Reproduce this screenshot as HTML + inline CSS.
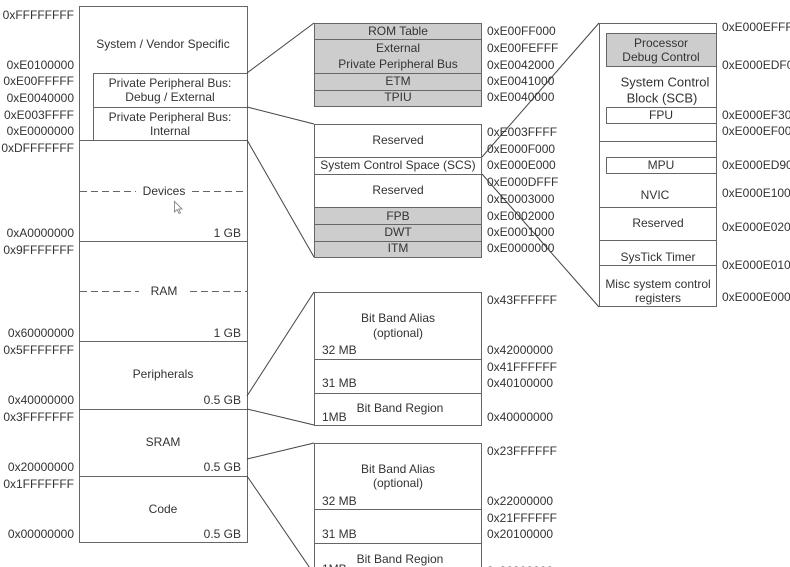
<!DOCTYPE html>
<html><head><meta charset="utf-8"><style>
html,body{margin:0;padding:0;background:#fff;}
svg{display:block;}
text{font-family:"Liberation Sans",Arial,sans-serif;font-size:12px;fill:#333;dominant-baseline:central;}
.m{text-anchor:middle;}
.e{text-anchor:end;}
</style></head><body>
<svg width="790" height="567" viewBox="0 0 790 567" xmlns="http://www.w3.org/2000/svg">
<g fill="none" stroke="#666" stroke-width="1">
<!-- left column -->
<rect x="79.5" y="6.5" width="168" height="536"/>
<rect x="93.5" y="73.5" width="154" height="34"/>
<line x1="93.5" y1="107.5" x2="93.5" y2="140.5"/>
<line x1="79.5" y1="140.5" x2="247.5" y2="140.5"/>
<line x1="79.5" y1="241.5" x2="247.5" y2="241.5"/>
<line x1="79.5" y1="341.5" x2="247.5" y2="341.5"/>
<line x1="79.5" y1="409.5" x2="247.5" y2="409.5"/>
<line x1="79.5" y1="476.5" x2="247.5" y2="476.5"/>
<g stroke-dasharray="7,4">
<line x1="80" y1="191.5" x2="136" y2="191.5"/>
<line x1="192" y1="191.5" x2="247" y2="191.5"/>
<line x1="80" y1="291.5" x2="139" y2="291.5"/>
<line x1="190" y1="291.5" x2="247" y2="291.5"/>
</g>
</g>
<!-- middle gray boxes -->
<g stroke="#666" stroke-width="1">
<rect x="314.5" y="23.5" width="167" height="83" fill="#cdcdcd"/>
<line x1="314.5" y1="39.5" x2="481.5" y2="39.5"/>
<line x1="314.5" y1="73.5" x2="481.5" y2="73.5"/>
<line x1="314.5" y1="90.5" x2="481.5" y2="90.5"/>
<rect x="314.5" y="124.5" width="167" height="133" fill="#fff"/>
<rect x="314.5" y="207.5" width="167" height="50" fill="#cdcdcd"/>
<line x1="314.5" y1="157.5" x2="481.5" y2="157.5"/>
<line x1="314.5" y1="174.5" x2="481.5" y2="174.5"/>
<line x1="314.5" y1="224.5" x2="481.5" y2="224.5"/>
<line x1="314.5" y1="241.5" x2="481.5" y2="241.5"/>
<!-- bit band 1 -->
<rect x="314.5" y="292.5" width="167" height="133" fill="#fff"/>
<line x1="314.5" y1="359.5" x2="481.5" y2="359.5"/>
<line x1="314.5" y1="393.5" x2="481.5" y2="393.5"/>
<!-- bit band 2 -->
<rect x="314.5" y="443.5" width="167" height="140" fill="#fff"/>
<line x1="314.5" y1="509.5" x2="481.5" y2="509.5"/>
<line x1="314.5" y1="543.5" x2="481.5" y2="543.5"/>
<!-- right column -->
<rect x="599.5" y="23.5" width="117" height="283" fill="#fff"/>
<rect x="606.5" y="33.5" width="110" height="33" fill="#cdcdcd"/>
<rect x="606.5" y="107.5" width="110" height="16" fill="#fff"/>
<line x1="599.5" y1="141.5" x2="716.5" y2="141.5"/>
<rect x="606.5" y="157.5" width="110" height="16" fill="#fff"/>
<line x1="599.5" y1="207.5" x2="716.5" y2="207.5"/>
<line x1="599.5" y1="240.5" x2="716.5" y2="240.5"/>
<line x1="599.5" y1="265.5" x2="716.5" y2="265.5"/>
</g>
<!-- connectors -->
<g stroke="#444" stroke-width="1" fill="none">
<line x1="247" y1="73" x2="314" y2="23"/>
<line x1="247" y1="107" x2="314" y2="124"/>
<line x1="247" y1="140" x2="314" y2="257"/>
<line x1="482" y1="157" x2="599" y2="23"/>
<line x1="482" y1="174" x2="599" y2="307"/>
<line x1="247" y1="396" x2="314" y2="292"/>
<line x1="247" y1="409" x2="314" y2="425"/>
<line x1="247" y1="459" x2="314" y2="443"/>
<line x1="247" y1="476" x2="314" y2="574"/>
</g>
<!-- cursor -->
<path d="M174.5,201.5 L174.5,212 L177,209.5 L179,213.5 L180.5,212.8 L178.6,209 L182,209 Z" fill="#fff" stroke="#777" stroke-width="0.8"/>
<!-- left labels -->
<g class="e">
<text class="e" x="74" y="15">0xFFFFFFFF</text>
<text class="e" x="74" y="65">0xE0100000</text>
<text class="e" x="74" y="81">0xE00FFFFF</text>
<text class="e" x="74" y="98">0xE0040000</text>
<text class="e" x="74" y="115">0xE003FFFF</text>
<text class="e" x="74" y="131">0xE0000000</text>
<text class="e" x="74" y="148">0xDFFFFFFF</text>
<text class="e" x="74" y="233">0xA0000000</text>
<text class="e" x="74" y="250">0x9FFFFFFF</text>
<text class="e" x="74" y="333">0x60000000</text>
<text class="e" x="74" y="350">0x5FFFFFFF</text>
<text class="e" x="74" y="400">0x40000000</text>
<text class="e" x="74" y="417">0x3FFFFFFF</text>
<text class="e" x="74" y="467">0x20000000</text>
<text class="e" x="74" y="484">0x1FFFFFFF</text>
<text class="e" x="74" y="534">0x00000000</text>
</g>
<!-- left box text -->
<text class="m" x="163" y="44">System / Vendor Specific</text>
<text class="m" x="170" y="83">Private Peripheral Bus:</text>
<text class="m" x="170" y="97">Debug / External</text>
<text class="m" x="170" y="117">Private Peripheral Bus:</text>
<text class="m" x="170" y="131">Internal</text>
<text class="m" x="164" y="191">Devices</text>
<text class="e" x="241" y="233">1 GB</text>
<text class="m" x="164" y="291">RAM</text>
<text class="e" x="241" y="333">1 GB</text>
<text class="m" x="163" y="374">Peripherals</text>
<text class="e" x="241" y="400">0.5 GB</text>
<text class="m" x="163" y="442">SRAM</text>
<text class="e" x="241" y="467">0.5 GB</text>
<text class="m" x="163" y="509">Code</text>
<text class="e" x="241" y="534">0.5 GB</text>
<!-- middle box text -->
<text class="m" x="398" y="31">ROM Table</text>
<text class="m" x="398" y="48">External</text>
<text class="m" x="398" y="64">Private Peripheral Bus</text>
<text class="m" x="398" y="81">ETM</text>
<text class="m" x="398" y="97">TPIU</text>
<text class="m" x="398" y="140">Reserved</text>
<text class="m" x="398" y="165">System Control Space (SCS)</text>
<text class="m" x="398" y="190">Reserved</text>
<text class="m" x="398" y="216">FPB</text>
<text class="m" x="398" y="232">DWT</text>
<text class="m" x="398" y="248">ITM</text>
<text class="m" x="398" y="318">Bit Band Alias</text>
<text class="m" x="398" y="333">(optional)</text>
<text x="322" y="350">32 MB</text>
<text x="322" y="383">31 MB</text>
<text class="m" x="400" y="408">Bit Band Region</text>
<text x="322" y="417">1MB</text>
<text class="m" x="398" y="469">Bit Band Alias</text>
<text class="m" x="398" y="483">(optional)</text>
<text x="322" y="501">32 MB</text>
<text x="322" y="534">31 MB</text>
<text class="m" x="400" y="559">Bit Band Region</text>
<text x="322" y="569">1MB</text>
<!-- middle labels -->
<text x="487" y="31">0xE00FF000</text>
<text x="487" y="48">0xE00FEFFF</text>
<text x="487" y="65">0xE0042000</text>
<text x="487" y="81">0xE0041000</text>
<text x="487" y="97">0xE0040000</text>
<text x="487" y="132">0xE003FFFF</text>
<text x="487" y="149">0xE000F000</text>
<text x="487" y="165">0xE000E000</text>
<text x="487" y="182">0xE000DFFF</text>
<text x="487" y="199">0xE0003000</text>
<text x="487" y="216">0xE0002000</text>
<text x="487" y="232">0xE0001000</text>
<text x="487" y="248">0xE0000000</text>
<text x="487" y="300">0x43FFFFFF</text>
<text x="487" y="350">0x42000000</text>
<text x="487" y="367">0x41FFFFFF</text>
<text x="487" y="383">0x40100000</text>
<text x="487" y="417">0x40000000</text>
<text x="487" y="451">0x23FFFFFF</text>
<text x="487" y="501">0x22000000</text>
<text x="487" y="518">0x21FFFFFF</text>
<text x="487" y="534">0x20100000</text>
<text x="487" y="571">0x20000000</text>
<!-- right column text -->
<text class="m" x="661" y="43">Processor</text>
<text class="m" x="661" y="57">Debug Control</text>
<text class="m" x="665" y="82" style="font-size:13px">System Control</text>
<text class="m" x="662" y="98" style="font-size:13px">Block (SCB)</text>
<text class="m" x="661" y="115">FPU</text>
<text class="m" x="661" y="165">MPU</text>
<text class="m" x="655" y="195">NVIC</text>
<text class="m" x="658" y="223">Reserved</text>
<text class="m" x="658" y="257">SysTick Timer</text>
<text class="m" x="658" y="284">Misc system control</text>
<text class="m" x="658" y="298">registers</text>
<!-- right labels -->
<text x="722" y="27">0xE000EFFF</text>
<text x="722" y="65">0xE000EDF0</text>
<text x="722" y="115">0xE000EF30</text>
<text x="722" y="131">0xE000EF00</text>
<text x="722" y="165">0xE000ED90</text>
<text x="722" y="193">0xE000E100</text>
<text x="722" y="227">0xE000E020</text>
<text x="722" y="265">0xE000E010</text>
<text x="722" y="297">0xE000E000</text>
</svg>
</body></html>
